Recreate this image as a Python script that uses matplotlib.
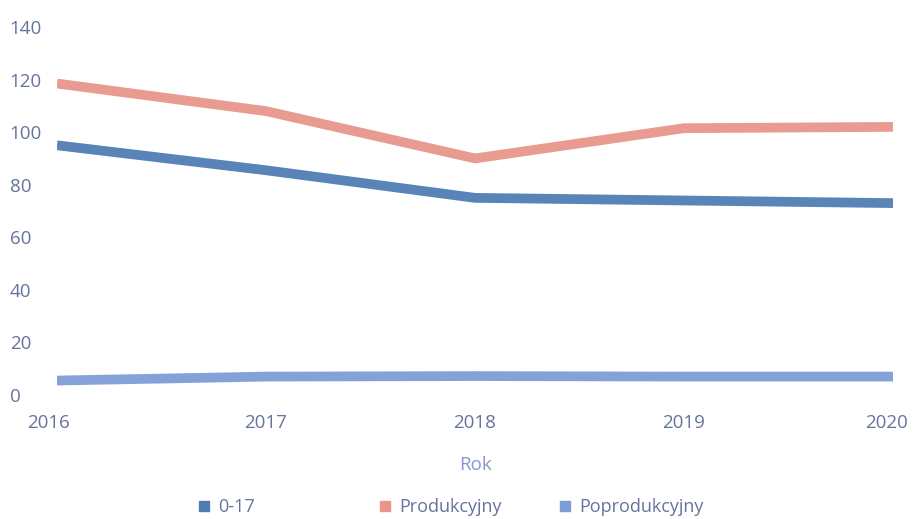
import matplotlib.pyplot as plt
import matplotlib.transforms as mtransforms
from matplotlib.lines import Line2D

plt.rcParams['font.family'] = ['Open Sans', 'DejaVu Sans']

# data
years = [2016, 2017, 2018, 2019, 2020]
wiek_0_17 = [95, 85.5, 75, 74, 73]
produkcyjny = [118.5, 108, 90, 101.5, 102]
poprodukcyjny = [5.5, 7, 7.2, 7, 7]

labels = ['0-17', 'Produkcyjny', 'Poprodukcyjny']
colors = ['#4f7db3', '#e8968c', '#7d9dd6']
tick_color = '#66739e'

fig = plt.figure(figsize=(9.13, 5.19), dpi=100)
ax = fig.add_axes([57 / 913, 1 - 395 / 519, (893 - 57) / 913, (395 - 27) / 519])

for vals, c in zip([wiek_0_17, produkcyjny, poprodukcyjny], colors):
    ax.plot(years, vals, color=c, lw=7, solid_capstyle='butt', alpha=0.95)

ax.set_xlim(2016, 2020)
ax.set_ylim(0, 140)
ax.set_yticks(range(0, 141, 20))
ax.set_xticks(years)
for s in ax.spines.values():
    s.set_visible(False)
ax.tick_params(length=0, colors=tick_color, labelsize=13.5)
ax.tick_params(axis='y', pad=34)
for t in ax.get_yticklabels():
    t.set_horizontalalignment('left')
ax.tick_params(axis='x', pad=14)
# end year labels sit a bit inward in the original
xl = ax.get_xticklabels()
xl[0].set_transform(xl[0].get_transform() + mtransforms.ScaledTranslation(-0.08, 0, fig.dpi_scale_trans))
xl[-1].set_transform(xl[-1].get_transform() + mtransforms.ScaledTranslation(-0.07, 0, fig.dpi_scale_trans))
ax.set_xlabel('Rok', color='#8796cc', fontsize=13.5, labelpad=17)

# legend: three fixed-width entries
xs = [186, 367, 547]
for lab, c, x in zip(labels, colors, xs):
    h = Line2D([], [], marker='s', ls='none', color=c, markersize=7)
    fig.legend([h], [lab], loc='center left', bbox_to_anchor=(x / 913, 1 - 507 / 519),
               frameon=False, fontsize=13, handletextpad=0.3, labelcolor=tick_color,
               borderpad=0, handlelength=1.0)

fig.savefig('out.png', dpi=100)
